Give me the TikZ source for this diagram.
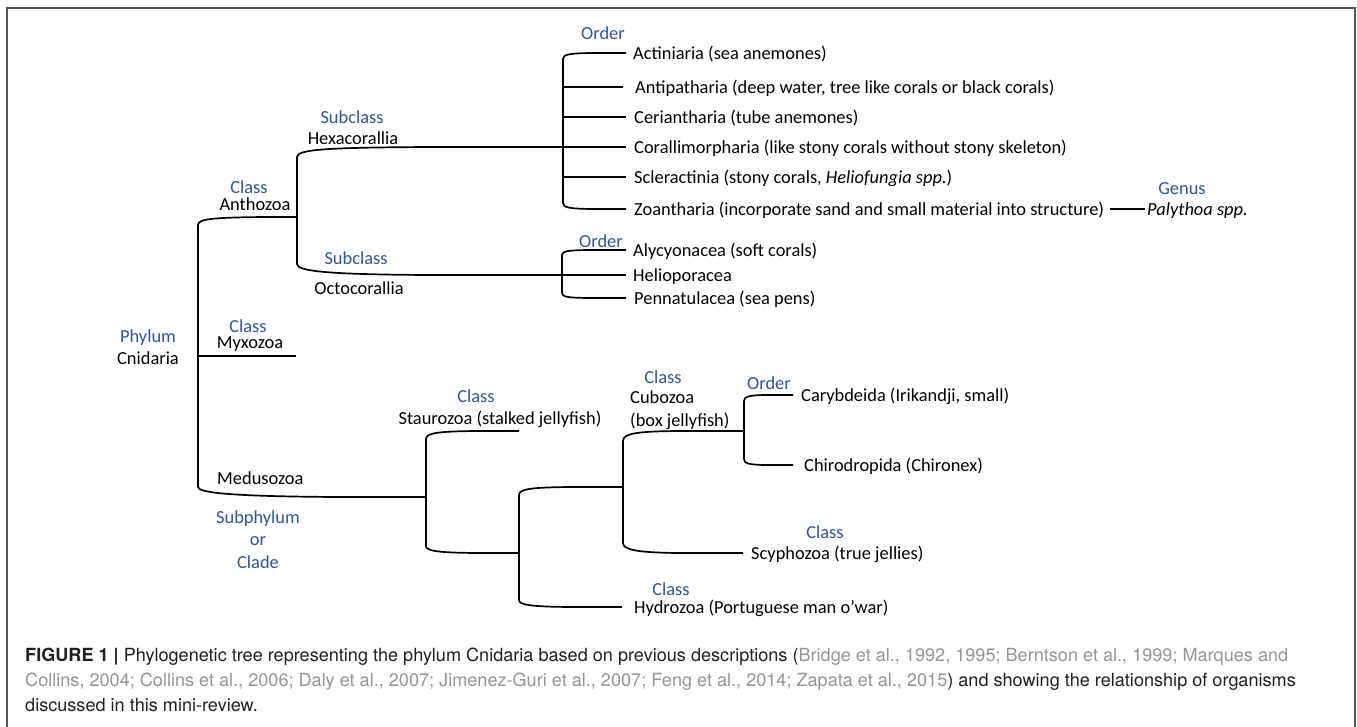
\documentclass[tikz,border=0pt]{standalone}
\usepackage{fontspec}
\setmainfont{Carlito}
\newfontfamily\capfont{TeX Gyre Heros}
\definecolor{rankblue}{RGB}{47,85,151}
\definecolor{captext}{RGB}{35,31,32}
\definecolor{refgray}{RGB}{147,149,152}
\definecolor{framegray}{RGB}{85,85,85}
\begin{document}
\begin{tikzpicture}[x=1pt,y=-1pt,
  txt/.style={inner sep=0pt, text height=12pt, text depth=0pt, font=\fontsize{18.4}{22}\selectfont, text=black},
  rank/.style={txt, text=rankblue},
  lft/.style={txt, anchor=west},
  branch/.style={line width=1.7pt, draw=black, line join=round},
  capline/.style={inner sep=0pt, anchor=base west, font=\capfont\fontsize{18.1}{21}\selectfont, text=captext}]

\useasboundingbox (0,0) rectangle (1357,726);
\draw[framegray, line width=1.3pt] (7,730) -- (7,8) -- (1355,8) -- (1355,730);

% ---------- Anthozoa part ----------
\node[rank] (ordH) at (603,33) {Order};
\node[lft] (act) at (633,53) {Actiniaria (sea anemones)};
\node[lft] (antp) at (635,87) {Antipatharia (deep water, tree like corals or black corals)};
\node[lft] (cer) at (634,117) {Ceriantharia (tube anemones)};
\node[lft] (cor) at (634,147) {Corallimorpharia (like stony corals without stony skeleton)};
\node[lft] (scl) at (634,177) {Scleractinia (stony corals, \textit{Heliofungia spp.})};
\node[lft] (zoa) at (634,209) {Zoantharia (incorporate sand and small material into structure)};
\node[rank] (gen) at (1182,188) {Genus};
\node[lft] (pal) at (1147,209) {\textit{Palythoa spp.}};

\node[rank] (ordO) at (601,241) {Order};
\node[lft] (aly) at (633,250) {Alycyonacea (soft corals)};
\node[lft] (hel) at (633,275) {Helioporacea};
\node[lft] (pen) at (634,298) {Pennatulacea (sea pens)};

\node[rank] (subH) at (352,117) {Subclass};
\node[txt] (hex) at (353,138) {Hexacorallia};
\node[rank] (subO) at (356,258) {Subclass};
\node[txt] (oct) at (359,288) {Octocorallia};
\node[rank] (clA) at (249,187) {Class};
\node[txt] (antz) at (255,204) {Anthozoa};

% ---------- root ----------
\node[rank] (phy) at (148,336) {Phylum};
\node[txt] (cni) at (148,358) {Cnidaria};
\node[rank] (clM) at (248,326) {Class};
\node[txt] (myx) at (250,342) {Myxozoa};
\node[txt, anchor=west] (med) at (217,478) {Medusozoa};
\node[rank] (sp1) at (258,517) {Subphylum};
\node[rank] (sp2) at (258,539) {or};
\node[rank] (sp3) at (258,562) {Clade};

% ---------- Medusozoa part ----------
\node[rank] (clS) at (476,396) {Class};
\node[txt] (sta) at (500,418) {Staurozoa (stalked jellyfish)};
\node[rank] (clC) at (663,377) {Class};
\node[lft] (cub) at (630,397) {Cubozoa};
\node[lft] (box) at (630,420) {(box jellyfish)};
\node[rank] (ordC) at (769,383) {Order};
\node[lft] (car) at (801,395) {Carybdeida (Irikandji, small)};
\node[lft] (chi) at (804,465) {Chirodropida (Chironex)};
\node[rank] (clY) at (825,532) {Class};
\node[lft] (scy) at (751,553) {Scyphozoa (true jellies)};
\node[rank] (clD) at (671,589) {Class};
\node[lft] (hyd) at (634,607) {Hydrozoa (Portuguese man o’war)};

% ---------- junctions ----------
\coordinate (jA) at (297,217);
\coordinate (jR) at (198,356);
\coordinate (mx) at (296,356);
\coordinate (jH) at (563,147);
\coordinate (jO) at (562,275);
\coordinate (jM) at (426,497);
\coordinate (jS) at (519,431);
\coordinate (jB) at (519,553);
\coordinate (jC) at (623,487);
\coordinate (jK) at (744,431);

% root bracket
\draw[branch] (jA) -- (265,217) .. controls (212,217.5) and (198,219) .. (198,225) -- (198,487)
  .. controls (198,493) and (235,496.5) .. (340,497) -- (jM);
\draw[branch] (jR) -- (mx);

% Anthozoa bracket
\draw[branch] (jH) -- (430,147) .. controls (325,147.5) and (297,149.5) .. (297,157) -- (297,264)
  .. controls (297,271) and (325,274.5) .. (430,275) -- (jO);

% Hexacorallia bracket
\draw[branch, shorten <=7pt, shorten >=8pt] (act.west) -- (592,53) .. controls (569,53.3) and (563,54.5) .. (563,59)
  -- (563,203) .. controls (563,207.5) and (569,208.7) .. (592,209) -- (zoa.west);
\draw[branch, shorten >=12pt] (563,87) -- (antp.west);
\draw[branch, shorten >=8pt] (563,117) -- (cer.west);
\draw[branch, shorten >=8pt] (jH) -- (cor.west);
\draw[branch, shorten >=8pt] (563,177) -- (scl.west);
\draw[branch, shorten <=6pt, shorten >=2pt] (zoa.east) -- (pal.west);

% Octocorallia bracket
\draw[branch, shorten <=7pt, shorten >=8pt] (aly.west) -- (590,250) .. controls (568,250.2) and (562,251) .. (562,255)
  -- (562,293) .. controls (562,297) and (568,297.8) .. (590,298) -- (pen.west);
\draw[branch, shorten >=7pt] (jO) -- (hel.west);

% Medusozoa bracket
\draw[branch] (jS) -- (478,431) .. controls (438,431.3) and (426,433) .. (426,439) -- (426,546)
  .. controls (426,551) and (438,552.7) .. (478,553) -- (jB);

% Cubozoa/Scyphozoa + Hydrozoa bracket
\draw[branch, shorten >=12pt] (jC) -- (572,487) .. controls (531,487.3) and (519,489) .. (519,495) -- (519,600)
  .. controls (519,605) and (531,606.7) .. (572,607) -- (hyd.west);

% Cubozoa + Scyphozoa bracket
\draw[branch, shorten >=8pt] (jK) -- (680,431) .. controls (636,431.3) and (623,433.5) .. (623,441) -- (623,543)
  .. controls (623,549.5) and (636,552.7) .. (680,553) -- (scy.west);

% Order bracket (Cubozoa)
\draw[branch, shorten <=8pt, shorten >=11pt] (car.west) -- (766,395) .. controls (749,395.2) and (744,396.5) .. (744,401)
  -- (744,459) .. controls (744,463.5) and (749,464.8) .. (766,465) -- (chi.west);

% ---------- caption ----------
\node[capline] (cap1) at (25,661) {\textbf{FIGURE 1 |} Phylogenetic tree representing the phylum Cnidaria based on previous descriptions (\textcolor{refgray}{Bridge et al., 1992, 1995; Berntson et al., 1999; Marques and}};
\node[capline] (cap2) at (25,686) {\textcolor{refgray}{Collins, 2004; Collins et al., 2006; Daly et al., 2007; Jimenez-Guri et al., 2007; Feng et al., 2014; Zapata et al., 2015}) and showing the relationship of organisms};
\node[capline] (cap3) at (25,711) {discussed in this mini-review.};
\end{tikzpicture}
\end{document}
